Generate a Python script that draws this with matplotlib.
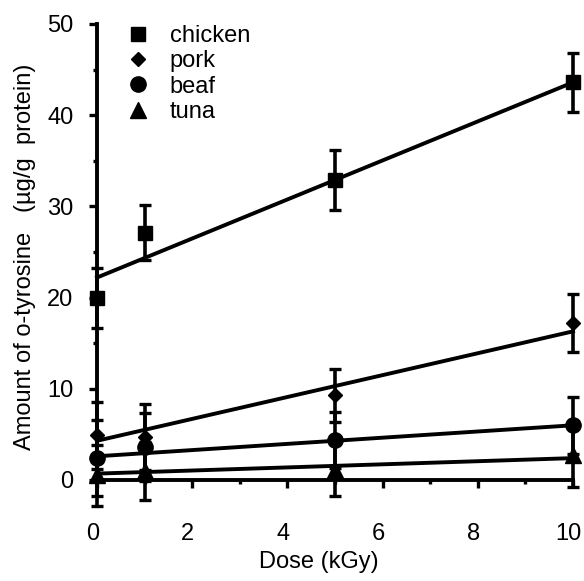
import matplotlib
matplotlib.use('Agg')
import matplotlib.pyplot as plt
from matplotlib.lines import Line2D
from matplotlib.transforms import ScaledTranslation
import numpy as np

plt.rcParams['font.family'] = ['Liberation Sans', 'DejaVu Sans']

# data
dose = [0, 1, 5, 10]
names = ['chicken', 'pork', 'beaf', 'tuna']
chicken = [20.0, 27.1, 32.9, 43.6]
chicken_err = [3.3, 3.0, 3.3, 3.2]
pork = [4.9, 4.7, 9.3, 17.2]
pork_err = [3.7, 3.6, 2.9, 3.2]
beaf = [2.4, 3.6, 4.4, 6.0]
beaf_err = [4.2, 3.7, 3.1, 3.1]
tuna = [0.5, 1.0, 1.1, 2.7]
tuna_err = [3.3, 3.2, 2.9, 3.5]
# regression lines (intercept, slope) as drawn
fit_intercept = [22.2, 4.3, 2.6, 0.7]
fit_slope = [2.14, 1.20, 0.34, 0.17]

series = [chicken, pork, beaf, tuna]
errors = [chicken_err, pork_err, beaf_err, tuna_err]
markers = ['s', 'D', 'o', '^']
msizes = [10.5, 7.5, 11, 11]
FS = 17

fig = plt.figure(figsize=(5.84, 5.81), dpi=100)
ax = fig.add_axes([97 / 584, 1 - 480 / 581, 476 / 584, 456 / 581])

xfit = np.array([0, 10])
for i in range(4):
    ax.plot(xfit, fit_intercept[i] + fit_slope[i] * xfit, color='k',
            lw=2.8, clip_on=False, zorder=2)
    ax.errorbar(dose, series[i], yerr=errors[i], fmt=markers[i], color='k',
                ms=msizes[i], elinewidth=2.6, capsize=4.5, capthick=2.4,
                clip_on=False, zorder=3)

ax.set_xlim(0, 10)
ax.set_ylim(0, 50)
for s in ['top', 'right']:
    ax.spines[s].set_visible(False)
for s in ['left', 'bottom']:
    ax.spines[s].set_linewidth(2.8)

ax.set_xticks([0, 2, 4, 6, 8, 10])
ax.set_xticks([1, 3, 5, 7, 9], minor=True)
ax.set_yticks([0, 10, 20, 30, 40, 50])
ax.set_yticks([5, 15, 25, 35, 45], minor=True)
ax.tick_params(axis='both', which='major', length=6, width=2.4, labelsize=FS)
ax.tick_params(axis='both', which='minor', length=3, width=2.4)
ax.tick_params(axis='x', which='major', pad=25)
ax.tick_params(axis='y', which='major', pad=11)

# the scan has the x tick labels sitting a little left of their ticks
shift = ScaledTranslation(-0.045, 0, fig.dpi_scale_trans)
for lbl in ax.get_xticklabels():
    lbl.set_transform(lbl.get_transform() + shift)

ax.set_xlabel('Dose (kGy)', fontsize=FS)
ax.xaxis.set_label_coords(0.466, -0.155)
ax.set_ylabel('Amount of o-tyrosine   (\u00b5g/g  protein)', fontsize=FS)
ax.yaxis.set_label_coords(-0.128, 0.489)

handles = [Line2D([], [], marker=markers[i], color='k', ls='none',
                  ms=msizes[i]) for i in range(4)]
ax.legend(handles, names, loc='upper left', bbox_to_anchor=(126 / 584, 1 - 25 / 581),
          bbox_transform=fig.transFigure, frameon=False, fontsize=FS,
          borderpad=0, borderaxespad=0, handlelength=1.0, handletextpad=0.86,
          labelspacing=0.14)

fig.savefig('out.png', dpi=100)
